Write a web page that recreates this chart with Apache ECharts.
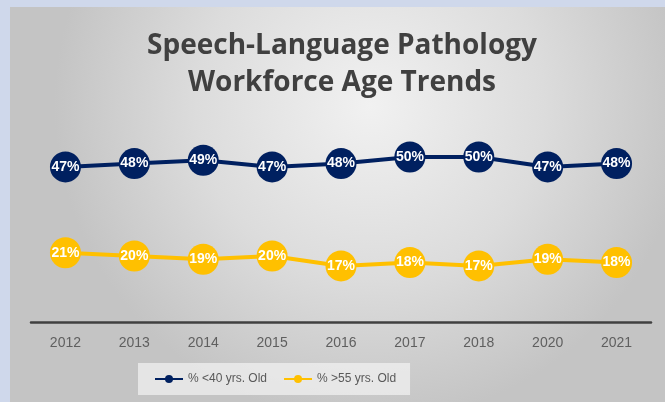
<!DOCTYPE html>
<html>
<head>
<meta charset="utf-8">
<script src="https://cdn.jsdelivr.net/npm/echarts@6/dist/echarts.min.js"></script>
<style>
html,body{margin:0;padding:0;background:#cfd8eb;}
#c{width:665px;height:402px;}
</style>
</head>
<body>
<div id="c"></div>
<script>
var years = ['2012','2013','2014','2015','2016','2017','2018','2020','2021'];
var under40 = [47,48,49,47,48,50,50,47,48];
var over55 = [21,20,19,20,17,18,17,19,18];
var seriesNames = ['% <40 yrs. Old','% >55 yrs. Old'];
var titleText = 'Speech-Language Pathology\nWorkforce Age Trends';

var chart = echarts.init(document.getElementById('c'), null, {renderer:'canvas'});
var labelStyle = {
  show: true, position: 'inside', formatter: '{c}%',
  color: '#ffffff', fontWeight: 'bold', fontSize: 14,
  fontFamily: 'Liberation Sans, Arial, sans-serif'
};
chart.setOption({
  backgroundColor: '#cfd8eb',
  graphic: [{
    type: 'rect', z: -10, silent: true,
    shape: {x: 10, y: 7, width: 655, height: 395},
    style: {
      fill: new echarts.graphic.RadialGradient(0.55, 0.25, 0.8, [
        {offset: 0, color: '#f1f1f1'},
        {offset: 0.55, color: '#dcdcdc'},
        {offset: 1, color: '#c4c4c4'}
      ])
    }
  }],
  title: {
    text: titleText,
    left: 337, textAlign: 'center', top: 23,
    textStyle: {
      color: '#404040', fontSize: 28, fontWeight: 'bold', lineHeight: 37,
      fontFamily: 'Open Sans, Noto Sans, sans-serif'
    }
  },
  legend: {
    data: seriesNames,
    left: 138, top: 363,
    padding: [10, 14, 10, 16],
    itemGap: 16,
    itemWidth: 28, itemHeight: 10,
    backgroundColor: 'rgba(240,240,240,0.75)',
    textStyle: {color: '#595959', fontSize: 12, fontFamily: 'Liberation Sans, Arial, sans-serif'}
  },
  grid: {left: 31, right: 14, top: 124, bottom: 80},
  xAxis: {
    type: 'category', data: years, boundaryGap: true,
    axisLine: {lineStyle: {color: '#404040', width: 2.5}},
    axisTick: {show: false},
    axisLabel: {color: '#5f5f5f', fontSize: 14, margin: 14, fontFamily: 'Liberation Sans, Arial, sans-serif'}
  },
  yAxis: {type: 'value', min: 0, max: 60, show: false, splitLine: {show: false}},
  series: [{
    name: seriesNames[0], type: 'line', data: under40,
    symbol: 'circle', symbolSize: 31,
    itemStyle: {color: '#002060'},
    lineStyle: {color: '#002060', width: 4},
    label: labelStyle
  }, {
    name: seriesNames[1], type: 'line', data: over55,
    symbol: 'circle', symbolSize: 31,
    itemStyle: {color: '#ffc000'},
    lineStyle: {color: '#ffc000', width: 4},
    label: labelStyle
  }]
});
</script>
</body>
</html>
